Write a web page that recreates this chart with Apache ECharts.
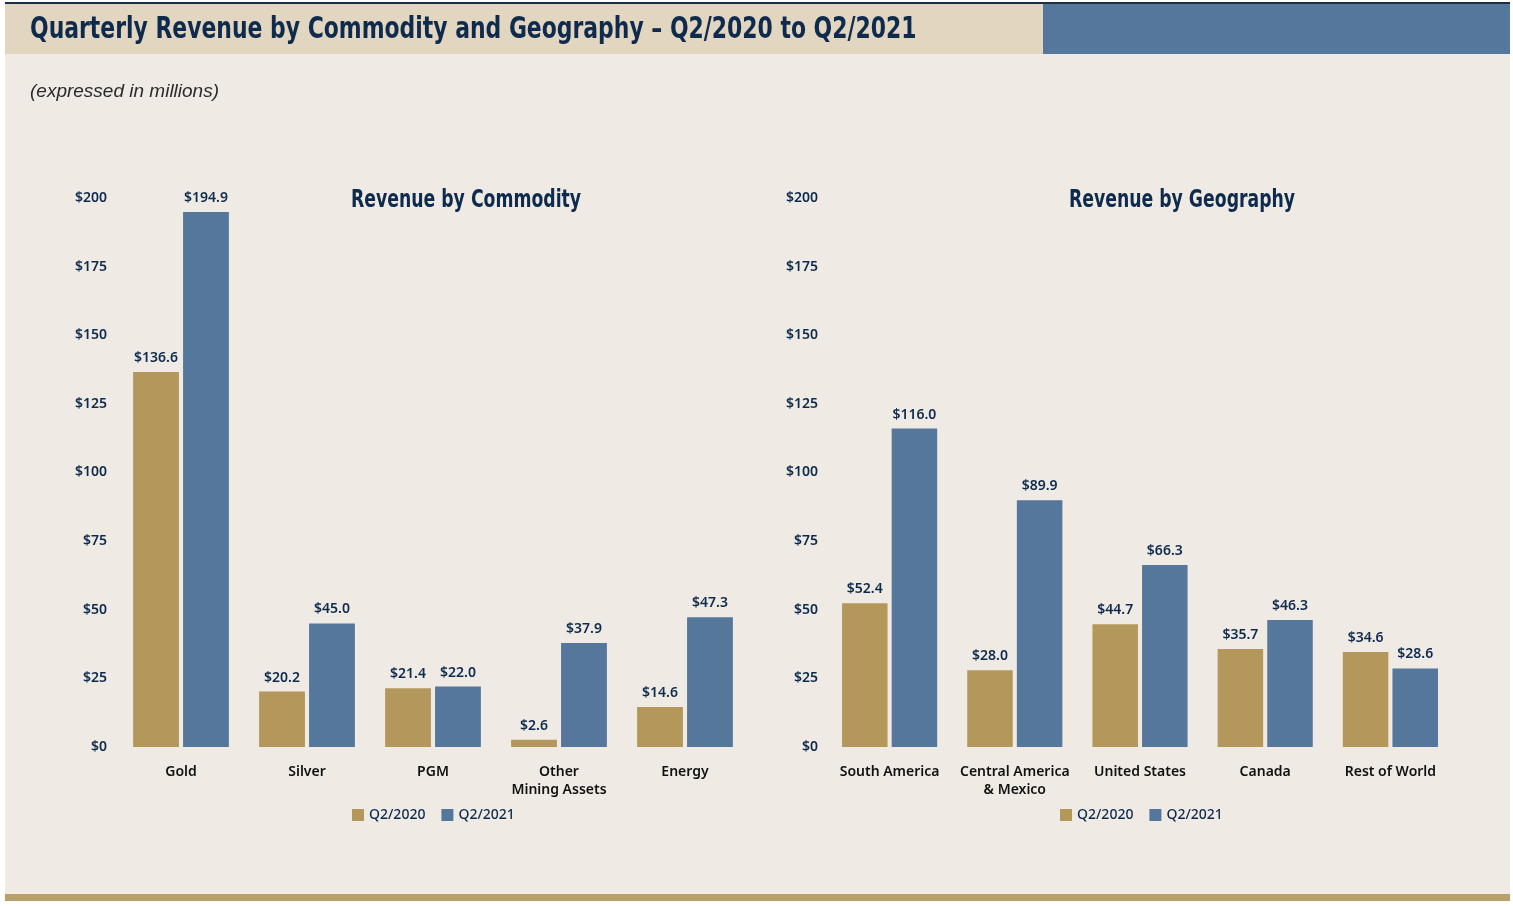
<!DOCTYPE html>
<html>
<head>
<meta charset="utf-8">
<script src="https://cdn.jsdelivr.net/npm/echarts@6/dist/echarts.min.js"></script>
<style>
  html, body { margin: 0; padding: 0; background: #ffffff; }
  #main { width: 1513px; height: 906px; }
</style>
</head>
<body>
<div id="main"></div>
<script>
// data
var commodities = ['Gold', 'Silver', 'PGM', 'Other\nMining Assets', 'Energy'];
var commodityQ2020 = [136.6, 20.2, 21.4, 2.6, 14.6];
var commodityQ2021 = [194.9, 45.0, 22.0, 37.9, 47.3];

var regions = ['South America', 'Central America\n& Mexico', 'United States', 'Canada', 'Rest of World'];
var regionQ2020 = [52.4, 28.0, 44.7, 35.7, 34.6];
var regionQ2021 = [116.0, 89.9, 66.3, 46.3, 28.6];

var periods = ['Q2/2020', 'Q2/2021'];
var yTicks = [0, 25, 50, 75, 100, 125, 150, 175, 200];

var GOLD = '#b4975b';
var BLUE = '#55779b';
var NAVY = '#0e2a4d';
var condensed = '"DejaVu Sans Condensed", "DejaVu Sans", sans-serif';
var body = '"Noto Sans", "Open Sans", sans-serif';

var chart = echarts.init(document.getElementById('main'));

function yAxis(idx, margin) {
  return {
    type: 'value', gridIndex: idx, min: yTicks[0], max: yTicks[yTicks.length - 1], interval: 25,
    axisLine: { show: false }, axisTick: { show: false }, splitLine: { show: false },
    axisLabel: {
      margin: margin, color: NAVY, fontFamily: body, fontSize: 14, fontWeight: 600,
      formatter: function (v) { return '$' + v; }
    }
  };
}

function xAxis(idx, cats) {
  return {
    type: 'category', gridIndex: idx, data: cats,
    axisLine: { show: false }, axisTick: { show: false },
    axisLabel: { margin: 16, color: '#111', fontFamily: body, fontSize: 14, fontWeight: 600, lineHeight: 18, interval: 0 }
  };
}

function bars(name, idx, data, color) {
  return {
    name: name, type: 'bar', xAxisIndex: idx, yAxisIndex: idx, data: data,
    barGap: '9%', barCategoryGap: '24%',
    itemStyle: { color: color },
    label: {
      show: true, position: 'top', distance: 7, color: NAVY,
      fontFamily: body, fontSize: 14, fontWeight: 600,
      formatter: function (p) { return '$' + p.value.toFixed(1); }
    }
  };
}

// condensed headline text, squeezed horizontally
function headline(text, x, y, size, align, sx) {
  return {
    type: 'text', x: x, y: y, scaleX: sx, silent: true, z: 10,
    style: {
      text: text, fill: NAVY, font: 'bold ' + size + 'px ' + condensed,
      align: align, verticalAlign: 'middle'
    }
  };
}

chart.setOption({
  animation: false,
  backgroundColor: '#ffffff',
  graphic: [
    { type: 'rect', shape: { x: 5, y: 3, width: 1505, height: 897 }, style: { fill: '#efebe4' }, silent: true, z: -10 },
    { type: 'rect', shape: { x: 5, y: 3, width: 1038, height: 51 }, style: { fill: '#e2d6c0' }, silent: true, z: -9 },
    { type: 'rect', shape: { x: 1043, y: 3, width: 467, height: 51 }, style: { fill: '#55779b' }, silent: true, z: -9 },
    { type: 'rect', shape: { x: 5, y: 2, width: 1505, height: 2 }, style: { fill: '#1c2f48' }, silent: true, z: -8 },
    { type: 'rect', shape: { x: 5, y: 894, width: 1505, height: 7 }, style: { fill: '#b8a06a' }, silent: true, z: -8 },
    headline('Quarterly Revenue by Commodity and Geography \u2013 Q2/2020 to Q2/2021', 30, 30, 31, 'left', 0.786),
    headline('Revenue by Commodity', 466, 201, 24, 'center', 0.8),
    headline('Revenue by Geography', 1182, 201, 24, 'center', 0.8)
  ],
  title: [
    {
      text: '(expressed in millions)',
      left: 25, top: 77,
      textStyle: { color: '#2a2a2a', fontFamily: '"Liberation Sans", Arial, sans-serif', fontSize: 19, fontStyle: 'italic', fontWeight: 'normal' }
    }
  ],
  legend: [
    {
      data: periods, left: 347, top: 803, itemWidth: 12, itemHeight: 12, itemGap: 16,
      icon: 'rect', textStyle: { color: NAVY, fontFamily: body, fontSize: 14, fontWeight: 500 }
    },
    {
      data: periods, left: 1055, top: 803, itemWidth: 12, itemHeight: 12, itemGap: 16,
      icon: 'rect', textStyle: { color: NAVY, fontFamily: body, fontSize: 14, fontWeight: 500 }
    }
  ],
  grid: [
    { left: 118, width: 630, top: 198, height: 549 },
    { left: 827, width: 626, top: 198, height: 549 }
  ],
  xAxis: [xAxis(0, commodities), xAxis(1, regions)],
  yAxis: [yAxis(0, 11), yAxis(1, 9)],
  series: [
    bars(periods[0], 0, commodityQ2020, GOLD),
    bars(periods[1], 0, commodityQ2021, BLUE),
    bars(periods[0], 1, regionQ2020, GOLD),
    bars(periods[1], 1, regionQ2021, BLUE)
  ]
});
</script>
</body>
</html>
